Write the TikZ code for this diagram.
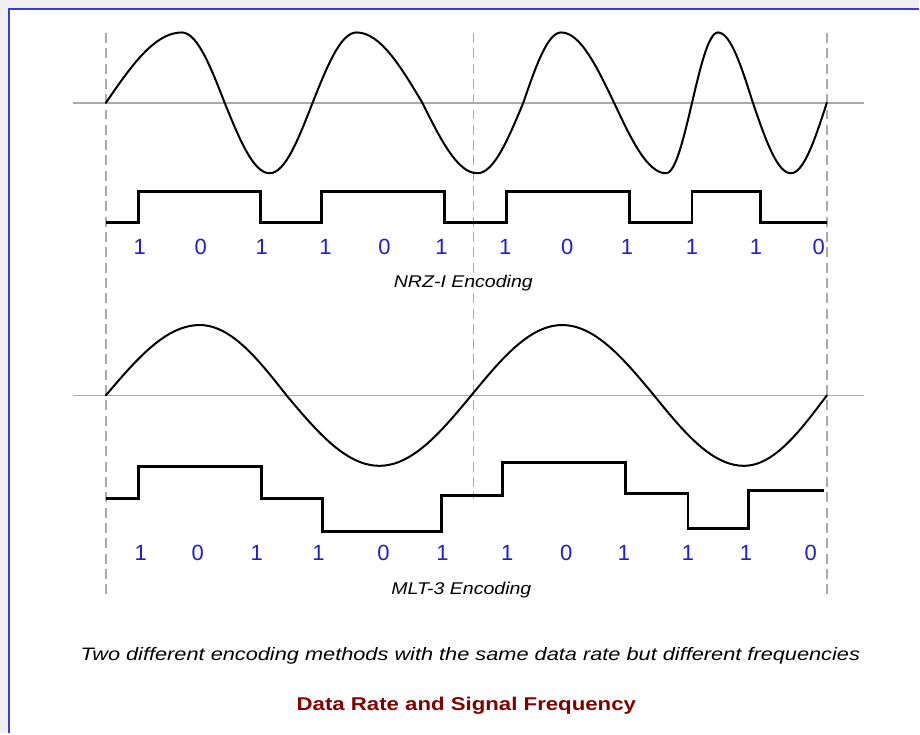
\documentclass[tikz,border=0pt]{standalone}
\usepackage{fontspec}
\setmainfont{Liberation Sans}
\usepackage{xcolor}
\usetikzlibrary{positioning}

\definecolor{framegray}{RGB}{240,240,240}
\definecolor{frameblue}{RGB}{60,60,220}
\definecolor{bitblue}{RGB}{30,30,210}
\definecolor{titlered}{RGB}{128,0,0}
\definecolor{axisgray}{RGB}{170,170,170}

\tikzset{
  sinewave/.style={line width=1.5pt,black,line join=round,line cap=round},
  bitline/.style={line width=2.2pt,black},
  axisline/.style={line width=1pt,axisgray},
  guideline/.style={line width=1.1pt,axisgray,dash pattern=on 7.5pt off 4pt},
  bitlabel/.style={font=\fontsize{16.5}{18}\selectfont,text=bitblue,inner sep=0pt},
  caplabel/.style={font=\fontsize{12.75}{14}\selectfont\itshape,inner sep=0pt}
}

\begin{document}
\begin{tikzpicture}[x=0.75pt,y=-0.75pt]

% Window frame
\fill[framegray] (0,0) rectangle (920,734);
\fill[white] (9,9) rectangle (920,734);
\draw[frameblue,line width=2pt] (9,734) -- (9,9) -- (920,9);

% Dashed guides
\draw[guideline] (106,33) -- (106,598);
\draw[guideline] (474,33) -- (474,500);
\draw[guideline] (828,33) -- (828,598);

% NRZ-I: signal and its frequency (one quarter wave per step)
\draw[axisline] (73,103) -- (865,103);
\draw[sinewave] (106,103)
  \foreach \xa/\xb [count=\k from 0] in {106/182,182/225,225/270,270/313,313/357,357/423,
      423/478,478/524,524/562,562/615,615/667,667/693,693/719,719/754,754/792,792/828}
  { -- plot[domain=0:90,samples=16,variable=\t] ({\xa+(\xb-\xa)*\t/90},{103-70.5*sin(90*\k+\t)}) };
\draw[bitline] (106,223) -| (139,192) -| (261,223) -| (322,192) -| (445,223)
  -| (507,192) -| (630,223) -| (693,192) -| (762,223) -- (828,223);

\foreach \x/\b [count=\i] in {140/1,201/0,262/1,326/1,385/0,442/1,506/1,568/0,628/1,693/1,757/1,820/0}
  \node[bitlabel] (nrz\i) at (\x,247) {\b};
\node[caplabel] (nrzcap) at (464,284) {\scalebox{1.15}[1]{NRZ-I Encoding}};

% MLT-3: signal and its frequency
\draw[axisline] (73,396) -- (865,396);
\draw[sinewave] (106,396)
  \foreach \xa/\xb [count=\k from 0] in {106/200,200/287,287/380,380/472,472/563,563/655,655/745,745/828}
  { -- plot[domain=0:90,samples=20,variable=\t] ({\xa+(\xb-\xa)*\t/90},{396-70.5*sin(90*\k+\t)}) };
\draw[bitline] (106,499) -| (139,467) -| (262,499) -| (323,532) -| (442,496)
  -| (503,463) -| (626,494) -| (689,529) -| (750,491) -- (825,491);

\foreach \x/\b [count=\i] in {141/1,198/0,257/1,319/1,384/0,443/1,508/1,567/0,625/1,689/1,747/1,812/0}
  \node[bitlabel] (mlt\i) at (\x,554) {\b};
\node[caplabel] (mltcap) at (462,591) {\scalebox{1.15}[1]{MLT-3 Encoding}};

% Caption and title
\node[font=\fontsize{13.5}{16}\selectfont\itshape,inner sep=0pt] (note) at (471,657)
  {\scalebox{1.21}[1]{Two different encoding methods with the same data rate but different frequencies}};
\node[font=\fontsize{13.9}{16}\selectfont\bfseries,text=titlered,inner sep=0pt] (title) at (467,707)
  {\scalebox{1.2}[1]{Data Rate and Signal Frequency}};

\end{tikzpicture}
\end{document}
